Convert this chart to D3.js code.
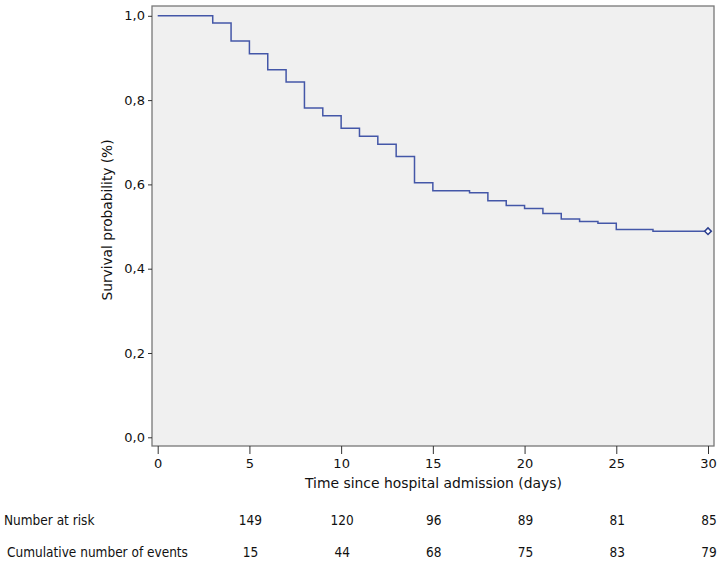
<html>
<head>
    <script src="https://d3js.org/d3.v7.min.js"></script>
    <style>
        body {
            margin: 0;
            background: #fff;
        }

        svg text {
            font-family: "DejaVu Sans", Verdana, sans-serif;
            fill: #111;
        }

        .axis .domain {
            stroke: none;
        }

        .axis line {
            stroke: #333;
        }

        .risk text {
            font-family: "DejaVu Sans Condensed", "DejaVu Sans", sans-serif;
            font-stretch: condensed;
        }
    </style>
</head>

<body>
    <svg width="722" height="563"></svg>
    <script>
        // Kaplan-Meier step values
        const times = [0, 3, 4, 5, 6, 7, 8, 9, 10, 11, 12, 13, 14, 15, 17, 18, 19, 20, 21, 22, 23, 24, 25, 27];
        const survival = [1.0, 0.983, 0.940, 0.910, 0.872, 0.843, 0.781, 0.763, 0.733, 0.714, 0.695, 0.666,
            0.604, 0.585, 0.580, 0.561, 0.550, 0.543, 0.531, 0.518, 0.512, 0.508, 0.493, 0.489];
        const endTime = 30;

        const xTicks = [0, 5, 10, 15, 20, 25, 30];
        const yTicks = [0, 0.2, 0.4, 0.6, 0.8, 1.0];

        // risk table under the axis
        const riskTimes = [5, 10, 15, 20, 25, 30];
        const atRisk = [149, 120, 96, 89, 81, 85];
        const cumEvents = [15, 44, 68, 75, 83, 79];

        const frame = { left: 152, right: 714, top: 6, bottom: 446 };

        const svg = d3.select("svg");

        const x = d3.scaleLinear().domain([0, 30]).range([157.7, 708]);
        const y = d3.scaleLinear().domain([0, 1]).range([437.3, 15.8]);

        // plot background
        svg.append("rect")
            .attr("x", frame.left)
            .attr("y", frame.top)
            .attr("width", frame.right - frame.left)
            .attr("height", frame.bottom - frame.top)
            .attr("fill", "#f0f0f0")
            .attr("stroke", "#777")
            .attr("stroke-width", 1.3);

        const fmt = d => d3.format(".1f")(d).replace(".", ",");

        // axes
        svg.append("g")
            .attr("class", "axis")
            .attr("transform", `translate(${frame.left},0)`)
            .call(d3.axisLeft(y).tickValues(yTicks).tickSize(4).tickPadding(3).tickFormat(fmt))
            .selectAll("text")
            .style("font-size", "13px");

        svg.append("g")
            .attr("class", "axis")
            .attr("transform", `translate(0,${frame.bottom})`)
            .call(d3.axisBottom(x).tickValues(xTicks).tickSize(8).tickPadding(5).tickFormat(d3.format("d")))
            .selectAll("text")
            .style("font-size", "13px");

        // survival curve
        const pts = times.map((t, i) => [t, survival[i]]);
        pts.push([endTime, survival[survival.length - 1]]);

        const line = d3.line()
            .x(d => x(d[0]))
            .y(d => y(d[1]))
            .curve(d3.curveStepAfter);

        svg.append("path")
            .datum(pts)
            .attr("fill", "none")
            .attr("stroke", "#4457a8")
            .attr("stroke-width", 1.5)
            .attr("d", line);

        // censored mark at the end
        svg.append("path")
            .attr("d", d3.symbol(d3.symbolSquare, 22)())
            .attr("transform", `translate(${x(endTime)},${y(survival[survival.length - 1])}) rotate(45)`)
            .attr("fill", "#fff")
            .attr("stroke", "#2c3f8f")
            .attr("stroke-width", 1.5);

        // axis titles
        svg.append("text")
            .attr("x", 433.5)
            .attr("y", 488)
            .attr("text-anchor", "middle")
            .attr("textLength", 257)
            .attr("lengthAdjust", "spacingAndGlyphs")
            .style("font-size", "14px")
            .text("Time since hospital admission (days)");

        svg.append("text")
            .attr("transform", "translate(112,220) rotate(-90)")
            .attr("text-anchor", "middle")
            .attr("textLength", 161)
            .attr("lengthAdjust", "spacingAndGlyphs")
            .style("font-size", "14px")
            .text("Survival probability (%)");

        // risk table
        const risk = svg.append("g").attr("class", "risk");

        risk.append("text").attr("x", 4).attr("y", 525).style("font-size", "13.5px").text("Number at risk");
        risk.append("text").attr("x", 7).attr("y", 557).style("font-size", "13.5px").text("Cumulative number of events");

        risk.selectAll(".n-risk")
            .data(riskTimes.map((t, i) => ({ t, v: atRisk[i] })))
            .join("text")
            .attr("class", "n-risk")
            .attr("x", d => x(d.t) + 1)
            .attr("y", 525)
            .attr("text-anchor", "middle")
            .style("font-size", "13.5px")
            .text(d => d.v);

        risk.selectAll(".n-events")
            .data(riskTimes.map((t, i) => ({ t, v: cumEvents[i] })))
            .join("text")
            .attr("class", "n-events")
            .attr("x", d => x(d.t) + 1)
            .attr("y", 557)
            .attr("text-anchor", "middle")
            .style("font-size", "13.5px")
            .text(d => d.v);
    </script>
</body>
</html>
